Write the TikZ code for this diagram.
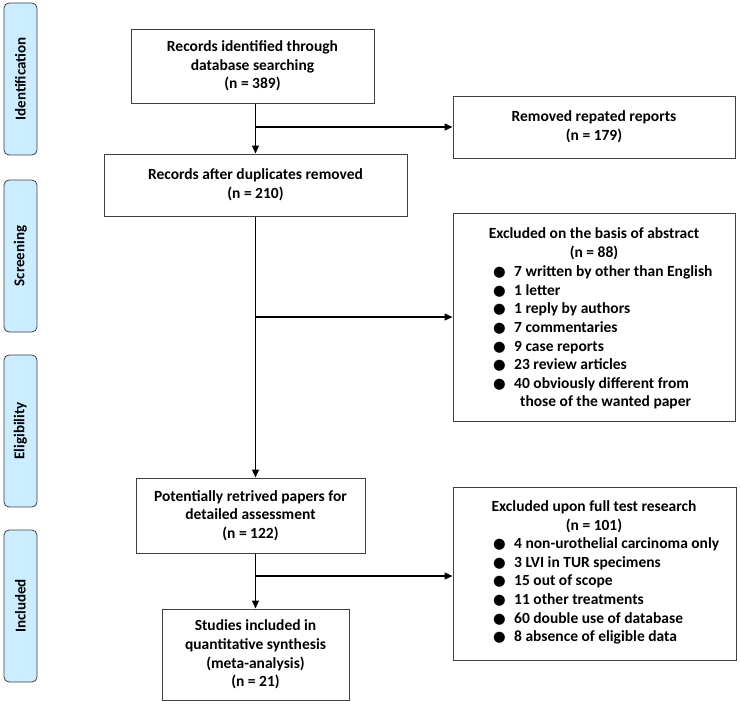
\documentclass[tikz,border=0pt]{standalone}
\usepackage{fontspec}
\setmainfont{Carlito}
\newfontfamily\dotfont{DejaVu Sans}
\usetikzlibrary{arrows.meta,positioning,calc}
\definecolor{stageblue}{RGB}{204,236,255}
\definecolor{edgegray}{RGB}{64,64,64}
\newcommand{\bul}{\makebox[21pt][l]{{\dotfont\fontsize{14.5}{14}\selectfont ●}}}

\begin{document}
\begin{tikzpicture}[x=1pt, y=-1pt,
    box/.style={draw=edgegray, line width=1pt, inner sep=0pt, align=center,
        font=\bfseries\fontsize{15.5}{18.6}\selectfont},
    txt/.style={inner sep=0pt, font=\bfseries\fontsize{15.5}{18.6}\selectfont},
    stage/.style={draw=edgegray, line width=0.8pt, fill=stageblue, rounded corners=5pt,
        rotate=90, minimum width=152pt, minimum height=33pt, inner sep=0pt,
        font=\bfseries\fontsize{15}{16}\selectfont},
    flow/.style={line width=1.3pt, -{Triangle[length=8pt,width=7pt]}}]
    \useasboundingbox (0,0) rectangle (740,705);

    % Stages
    \foreach \name/\y in {Identification/79, Screening/256, Eligibility/431, Included/606} {
        \node[stage] (stage\name) at (20.5, \y) {\name};
    }

    % Main column
    \node[box, minimum width=243pt, minimum height=74pt] (ident) at (252.5, 66)
        {Records identified through\\database searching\\(n = 389)};
    \node[box, minimum width=303pt, minimum height=62pt] (dedup) at (255.5, 185)
        {Records after duplicates removed\\(n = 210)};
    \node[box, minimum width=229pt, minimum height=75pt] (retrieved) at (250.5, 515.5)
        {Potentially retrived papers for\\detailed assessment\\(n = 122)};
    \node[box, minimum width=187pt, minimum height=91pt] (included) at (255.5, 654.5)
        {Studies included in\\quantitative synthesis\\(meta-analysis)\\(n = 21)};

    % Side column
    \node[box, minimum width=282pt, minimum height=62pt] (removed) at (594, 127)
        {Removed repated reports\\(n = 179)};
    \node[box, minimum width=282pt, minimum height=208pt] (abstract) at (594, 317) {};
    \node[txt, align=center] (abstracthead) at (594, 244)
        {Excluded on the basis of abstract\\(n = 88)};
    \node[txt, align=left, anchor=west] (abstractlist) at (493, 337.5)
        {\bul 7 written by other than English\\
         \bul 1 letter\\
         \bul 1 reply by authors\\
         \bul 7 commentaries\\
         \bul 9 case reports\\
         \bul 23 review articles\\
         \bul 40 obviously different from\\
         \hspace*{27pt}those of the wanted paper};
    \node[box, minimum width=283pt, minimum height=173pt] (fulltext) at (594.5, 573.5) {};
    \node[txt, align=center] (fulltexthead) at (594, 516.5)
        {Excluded upon full test research\\(n = 101)};
    \node[txt, align=left, anchor=west] (fulltextlist) at (493, 591)
        {\bul 4 non-urothelial carcinoma only\\
         \bul 3 LVI in TUR specimens\\
         \bul 15 out of scope\\
         \bul 11 other treatments\\
         \bul 60 double use of database\\
         \bul 8 absence of eligible data};

    % Arrows
    \coordinate (fork1) at (dedup.north |- removed.west);
    \coordinate (fork2) at (dedup.south |- abstract.west);
    \coordinate (fork3) at (included.north |- 0,576);
    \draw[flow] (dedup.north |- ident.south) -- (dedup.north);
    \draw[flow] (fork1) -- (removed.west);
    \draw[flow] (dedup.south) -- (dedup.south |- retrieved.north);
    \draw[flow] (fork2) -- (abstract.west);
    \draw[flow] (included.north |- retrieved.south) -- (included.north);
    \draw[flow] (fork3) -- (fork3 -| fulltext.west);
\end{tikzpicture}
\end{document}
